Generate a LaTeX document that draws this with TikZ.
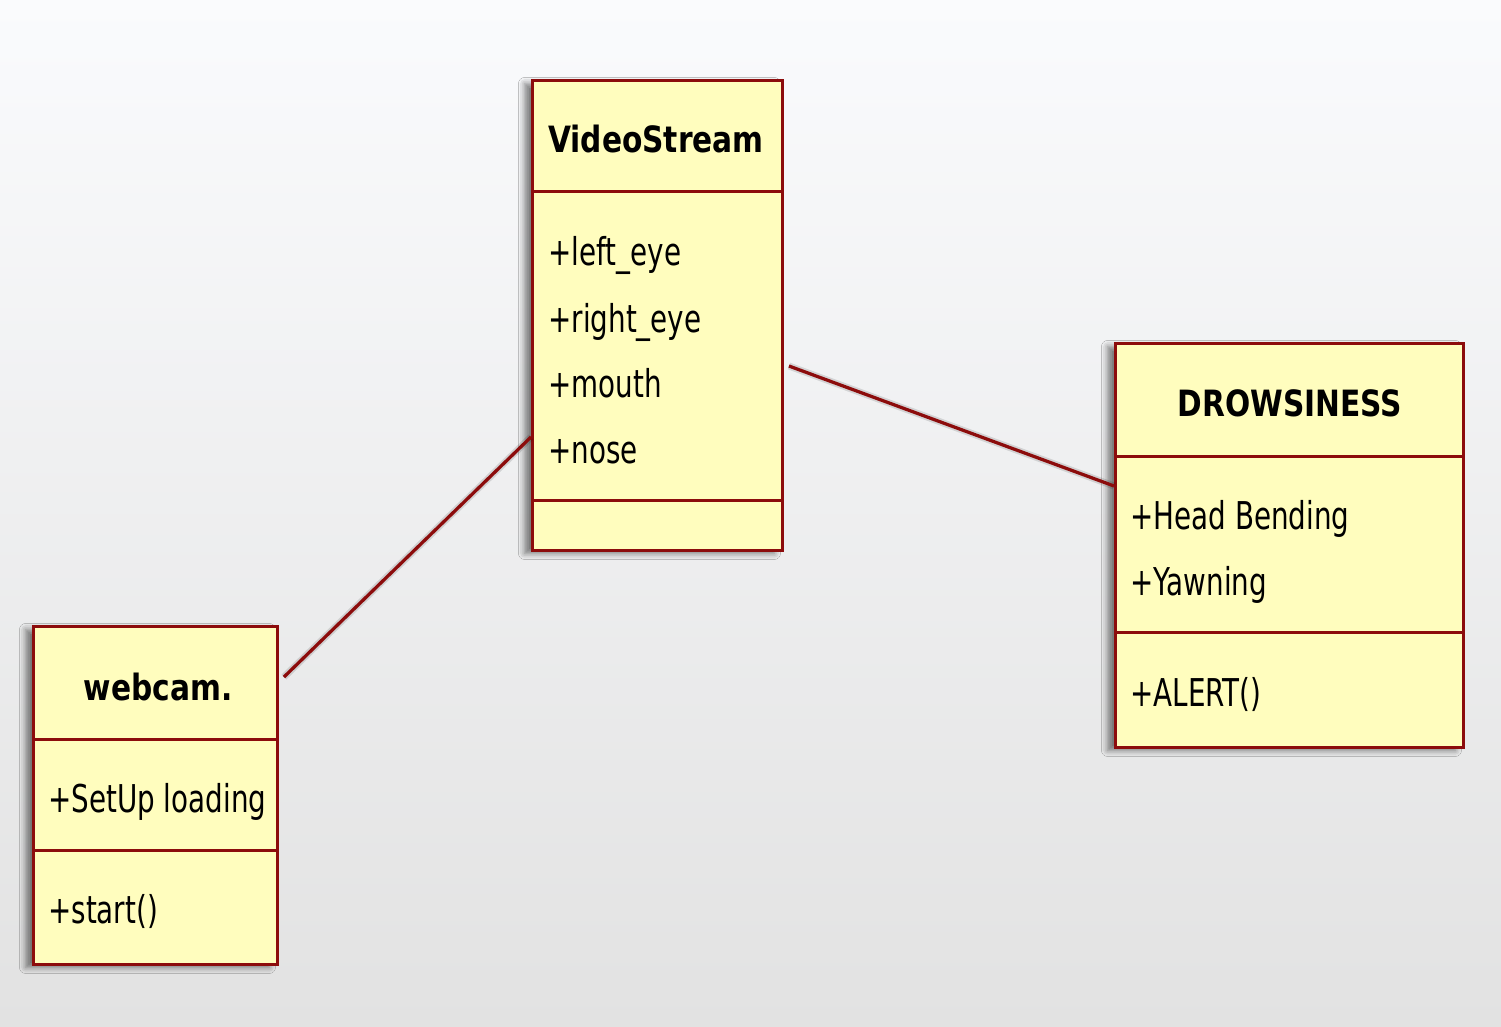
\documentclass[tikz,border=0pt]{standalone}
\usepackage{fontspec}
\setmainfont{DejaVu Sans}
\newfontfamily\attrfont{DejaVu Sans}[FakeStretch=0.725]
\newfontfamily\titlefont{DejaVu Sans}[FakeStretch=0.82]
\usetikzlibrary{shadows.blur}
\definecolor{umlred}{RGB}{140,12,12}
\definecolor{umlfill}{RGB}{255,253,190}
\definecolor{bgtop}{RGB}{250,251,253}
\definecolor{bgbot}{RGB}{226,226,226}
\tikzset{
  classbox/.style={draw=umlred, fill=umlfill, line width=0.06cm, anchor=north west, inner sep=0pt,
    blur shadow={shadow xshift=-0.16cm, shadow yshift=-0.06cm, shadow blur radius=0.12cm, shadow opacity=50}},
  divider/.style={draw=umlred, line width=0.06cm},
  assoc/.style={draw=umlred, line width=0.065cm},
  assocshadow/.style={draw=black, opacity=0.12, line width=0.14cm, yshift=-0.16cm},
  title/.style={font=\titlefont\bfseries\fontsize{20.6}{24}\selectfont, anchor=base, inner sep=0pt},
  attr/.style={font=\attrfont\fontsize{21.8}{26}\selectfont, anchor=base west, inner sep=0pt},
}
\begin{document}
\begin{tikzpicture}[x=0.02cm,y=-0.02cm]
\shade[top color=bgtop, bottom color=bgbot] (0,0) rectangle (1501,1027);
\useasboundingbox (0,0) rectangle (1501,1027);

% class boxes
\node[classbox, minimum width=5cm, minimum height=9.4cm] (vs) at (531,79) {};
\node[classbox, minimum width=6.96cm, minimum height=8.08cm] (dr) at (1114,342) {};
\node[classbox, minimum width=4.88cm, minimum height=6.76cm] (wc) at (32,625) {};

% compartment dividers
\draw[divider] (531,192) -- (784,192);
\draw[divider] (531,500) -- (784,500);
\draw[divider] (1114,456) -- (1465,456);
\draw[divider] (1114,632) -- (1465,632);
\draw[divider] (32,739) -- (279,739);
\draw[divider] (32,850) -- (279,850);

% connector end points
\coordinate (wcR) at ([shift={(5,52)}]wc.north east);
\coordinate (vsL) at ([shift={(0,358)}]vs.north west);
\coordinate (vsR) at ([shift={(5,287)}]vs.north east);
\coordinate (drL) at ([shift={(0,144)}]dr.north west);

% connectors
\draw[assocshadow] (wcR) -- (vsL);
\draw[assocshadow] (vsR) -- (drL);
\draw[assoc] (wcR) -- (vsL);
\draw[assoc] (vsR) -- (drL);

% texts
\node[title] (vsT) at (656,153) {VideoStream};
\node[attr] (vs1) at (548,266) {+left\_eye};
\node[attr] (vs2) at (548,332) {+right\_eye};
\node[attr] (vs3) at (548,397) {+mouth};
\node[attr] (vs4) at (548,463) {+nose};

\node[title] (drT) at (1290,416) {DROWSINESS};
\node[attr] (dr1) at (1130,529) {+Head Bending};
\node[attr] (dr2) at (1130,595) {+Yawning};
\node[attr] (dr3) at (1130,706) {+ALERT()};

\node[title] (wcT) at (158,700) {webcam.};
\node[attr] (wc1) at (48,812) {+SetUp loading};
\node[attr] (wc2) at (48,923) {+start()};
\end{tikzpicture}
\end{document}
